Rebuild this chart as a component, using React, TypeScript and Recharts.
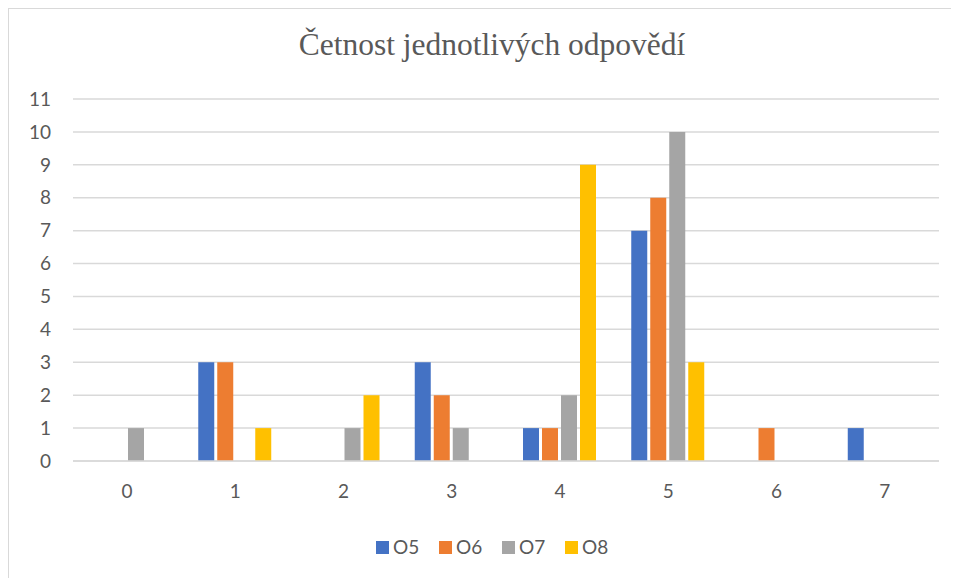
import React from 'react';
import { BarChart, Bar, XAxis, YAxis, CartesianGrid, Legend } from 'recharts';

const categories = ['0', '1', '2', '3', '4', '5', '6', '7'];
const o5 = [0, 3, 0, 3, 1, 7, 0, 1];
const o6 = [0, 3, 0, 2, 1, 8, 1, 0];
const o7 = [1, 0, 1, 1, 2, 10, 0, 0];
const o8 = [0, 1, 2, 0, 9, 3, 0, 0];
const yTicks = [0, 1, 2, 3, 4, 5, 6, 7, 8, 9, 10, 11];

const series = [
  { key: 'O5', values: o5, color: '#4472C4' },
  { key: 'O6', values: o6, color: '#ED7D31' },
  { key: 'O7', values: o7, color: '#A5A5A5' },
  { key: 'O8', values: o8, color: '#FFC000' },
];

const data = categories.map((c, i) => {
  const row: Record<string, string | number> = { name: c };
  series.forEach((s) => { row[s.key] = s.values[i]; });
  return row;
});

const FONT = 'Lato, "Liberation Sans", sans-serif';
const TEXT = '#595959';
const GRID = '#D9D9D9';

const LegendContent = ({ payload }: any) => (
  <div style={{ display: 'flex', justifyContent: 'center', alignItems: 'center', fontFamily: FONT, fontSize: 19, color: TEXT, lineHeight: '24px', paddingLeft: 36 }}>
    {(payload || []).map((p: any) => (
      <div key={p.value} style={{ display: 'flex', alignItems: 'center', marginRight: 9 }}>
        <span style={{ display: 'inline-block', width: 13, height: 13, background: p.color, marginRight: 4 }} />
        <span style={{ width: 37 }}>{p.value}</span>
      </div>
    ))}
  </div>
);

const App: React.FC = () => (
  <div style={{ position: 'relative', width: 950, height: 569, borderTop: `1px solid ${GRID}`, borderLeft: `1px solid ${GRID}`, background: '#fff' }}>
    <div style={{ position: 'absolute', top: 20, left: 8, width: 950, textAlign: 'center', fontFamily: '"Liberation Serif", "Times New Roman", serif', fontSize: 31.5, lineHeight: '31.5px', color: TEXT }}>
      Četnost jednotlivých odpovědí
    </div>
    <BarChart width={950} height={569} data={data} margin={{ top: 90, right: 20, left: 0, bottom: 77 }} barCategoryGap={17} barGap={3}>
      <CartesianGrid vertical={false} stroke={GRID} strokeWidth={1.5} />
      <XAxis dataKey="name" height={40} axisLine={{ stroke: GRID, strokeWidth: 1.5 }} tickLine={false} tickMargin={18} tick={{ fill: TEXT, fontSize: 19, fontFamily: FONT }} />
      <YAxis width={64} domain={[0, 11]} ticks={yTicks} interval={0} axisLine={false} tickLine={false} tickMargin={16} tick={{ fill: TEXT, fontSize: 19, fontFamily: FONT }} />
      <Legend verticalAlign="middle" align="center" wrapperStyle={{ top: 526, left: 0, width: 950 }} content={<LegendContent />} />
      {series.map((s) => (
        <Bar key={s.key} dataKey={s.key} name={s.key} fill={s.color} isAnimationActive={false} />
      ))}
    </BarChart>
  </div>
);

export default App;
